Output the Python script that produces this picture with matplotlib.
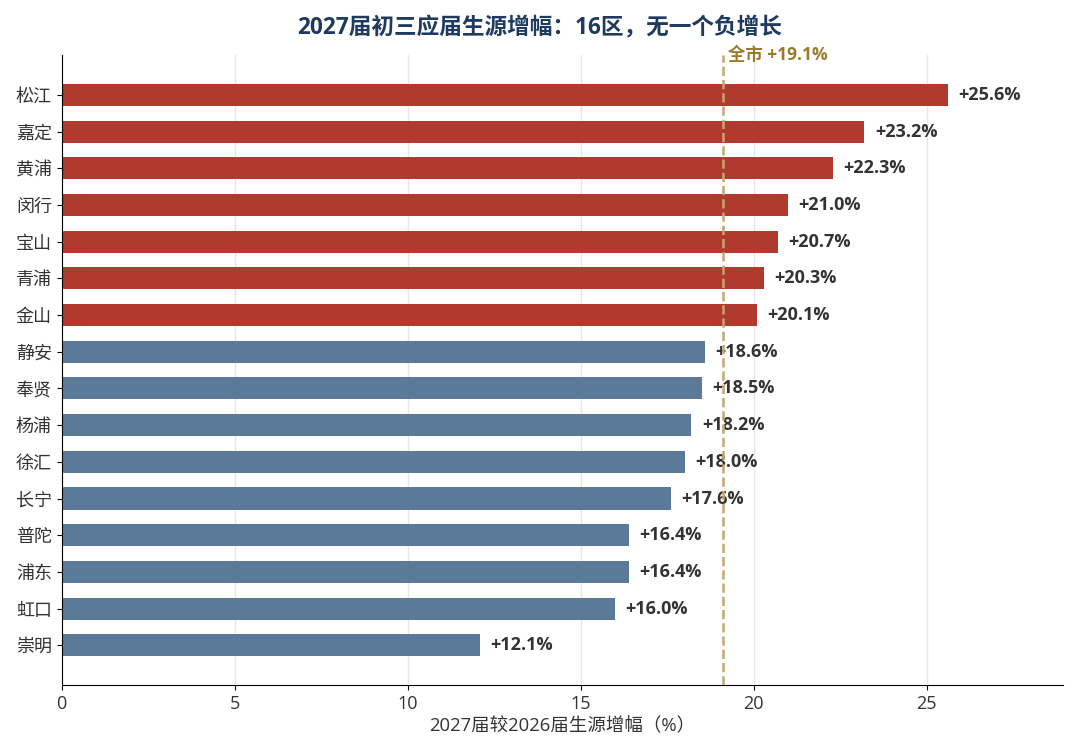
import matplotlib
matplotlib.use("Agg")
import matplotlib.pyplot as plt

plt.rcParams['font.family'] = ['Open Sans', 'Noto Sans CJK SC', 'DejaVu Sans']

DISTRICTS = ["松江", "嘉定", "黄浦", "闵行", "宝山", "青浦", "金山", "静安",
             "奉贤", "杨浦", "徐汇", "长宁", "普陀", "浦东", "虹口", "崇明"]
GROWTH = [25.6, 23.2, 22.3, 21.0, 20.7, 20.3, 20.1, 18.6,
          18.5, 18.2, 18.0, 17.6, 16.4, 16.4, 16.0, 12.1]
CITY_AVG = 19.1

RED = "#B03A2E"
BLUE = "#5B7A99"

fig = plt.figure(figsize=(10.8, 7.56), dpi=100)
ax = fig.add_axes([0.057, 0.094, 0.927, 0.833])

ypos = list(range(len(DISTRICTS)))[::-1]
colors = [RED if g > CITY_AVG else BLUE for g in GROWTH]
ax.barh(ypos, GROWTH, height=0.6, color=colors, zorder=2)

for y, g in zip(ypos, GROWTH):
    ax.text(g + 0.3, y, f"+{g:.1f}%", va="center", ha="left",
            fontsize=13, fontweight="bold", color="#333333")

ax.axvline(CITY_AVG, color="#C9A46E", linestyle="--", linewidth=1.8, zorder=3)
ax.text(CITY_AVG + 0.15, 1.001, f"全市 +{CITY_AVG}%", transform=ax.get_xaxis_transform(),
        ha="left", va="center", fontsize=12.5, fontweight="bold", color="#9A7B2C")

ax.set_yticks(ypos)
ax.set_yticklabels(DISTRICTS, fontsize=13, color="#333333")
ax.set_xlim(0, max(GROWTH) * 1.13)
ax.tick_params(axis="x", labelsize=13, labelcolor="#333333")
ax.set_xlabel("2027届较2026届生源增幅（%）", fontsize=13.3, color="#333333", labelpad=3)
ax.grid(axis="x", color="#E6E6E6", linewidth=1, zorder=0)
ax.set_axisbelow(True)
ax.spines["top"].set_visible(False)
ax.spines["right"].set_visible(False)

fig.suptitle("2027届初三应届生源增幅：16区，无一个负增长", y=0.978,
             fontsize=16.3, fontweight="bold", color="#1F3A5F")

fig.savefig("out.png", dpi=100)
